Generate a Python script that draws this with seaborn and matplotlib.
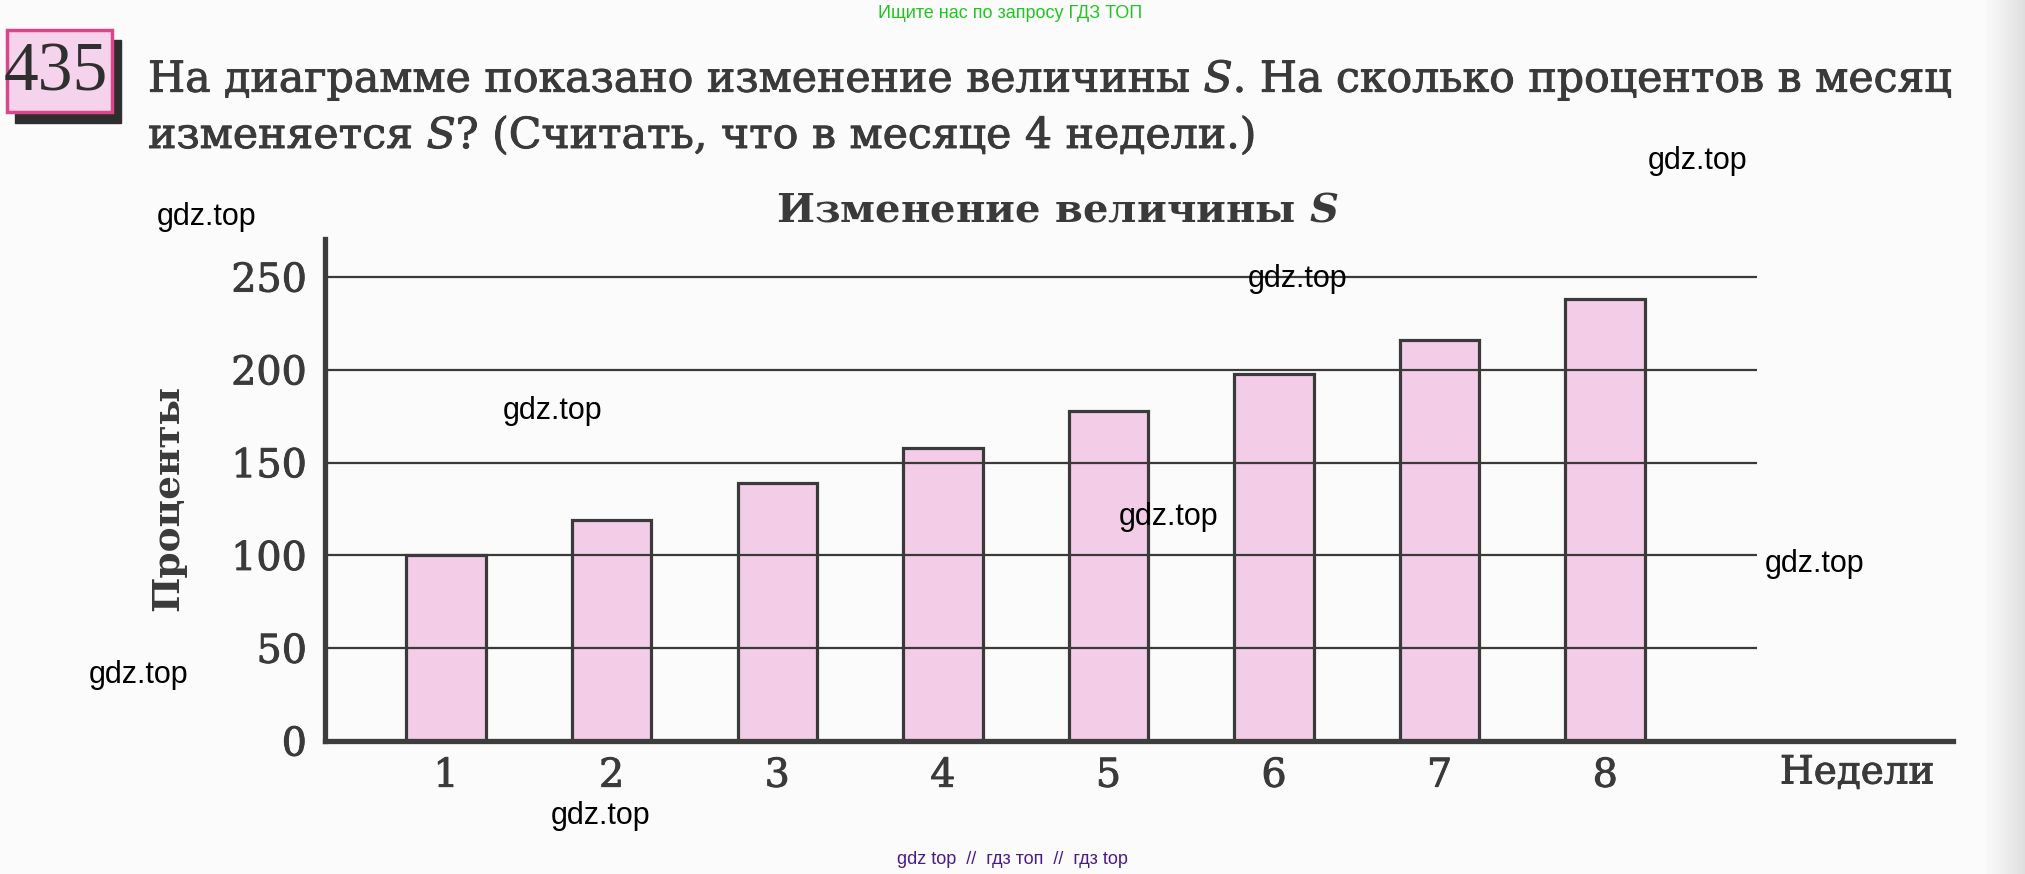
import matplotlib
matplotlib.use("Agg")
import matplotlib.pyplot as plt
import matplotlib.patheffects as pe
import seaborn as sns
import numpy as np
import pandas as pd
from matplotlib.patches import Rectangle

weeks = ["1", "2", "3", "4", "5", "6", "7", "8"]
percents = [100, 119, 139, 158, 178, 198, 216, 238]
y_ticks = [0, 50, 100, 150, 200, 250]

W, H = 2025, 874

sns.set_style("white")
plt.rcParams["font.family"] = ["DejaVu Serif"]
plt.rcParams["mathtext.fontset"] = "dejavuserif"

ink = "#3a3a3a"
pink = "#f3cde8"
# печать на бумаге чуть толще обычного шрифта
heavy = [pe.withStroke(linewidth=0.7, foreground=ink)]


def fx(x):
    return x / W


def fy(y):
    return 1 - y / H


fig = plt.figure(figsize=(W / 100, H / 100), dpi=100, facecolor="#fbfbfb")

# край страницы справа
edge = fig.add_axes([fx(1985), 0, 1 - fx(1985), 1])
edge.imshow(np.linspace(0.05, 0.22, 50)[None, :], aspect="auto", cmap="Greys",
            vmin=0, vmax=1, extent=(0, 1, 0, 1))
edge.axis("off")

# номер задачи в розовой рамке
fig.patches.append(Rectangle((fx(15), fy(123)), fx(106), 83 / H,
                             transform=fig.transFigure, color="#2e2e2e", zorder=1))
fig.patches.append(Rectangle((fx(7), fy(112)), fx(105), 82 / H,
                             transform=fig.transFigure, facecolor="#f6d3ec",
                             edgecolor="#d9468a", linewidth=2.5, zorder=2))
fig.text(fx(56), fy(74), "435", family="Liberation Serif", fontsize=50,
         color="#2f2f2f", ha="center", va="center", zorder=3)

# условие задачи
fig.text(fx(148), fy(92),
         "На диаграмме показано изменение величины $S$. На сколько процентов в месяц",
         fontsize=30.7, color=ink, ha="left", va="baseline", path_effects=heavy)
fig.text(fx(148), fy(148),
         "изменяется $S$? (Считать, что в месяце 4 недели.)",
         fontsize=30.7, color=ink, ha="left", va="baseline", path_effects=heavy)

# диаграмма
ax = fig.add_axes([fx(325), fy(741), fx(1953) - fx(325), fy(239) - fy(741)])
ax.set_facecolor("none")
df = pd.DataFrame({"week": weeks, "pct": percents})
sns.barplot(data=df, x="week", y="pct", color=pink, saturation=1, width=0.48,
            edgecolor=ink, linewidth=2.3, errorbar=None, ax=ax, zorder=2)
ax.hlines(y_ticks[1:], -0.731, 7.917, color=ink, linewidth=1.6, zorder=3)
ax.set_xlim(-0.731, 9.10)
ax.set_ylim(0, 270.5)
ax.set_yticks(y_ticks)
ax.set_xlabel("")
ax.set_ylabel("")
ax.tick_params(length=0, labelsize=28.5, labelcolor=ink)
ax.tick_params(axis="y", pad=13)
ax.tick_params(axis="x", pad=12)
for lbl in ax.get_xticklabels() + ax.get_yticklabels():
    lbl.set_path_effects(heavy)
for side in ["top", "right"]:
    ax.spines[side].set_visible(False)
for side in ["left", "bottom"]:
    ax.spines[side].set_linewidth(3.8)
    ax.spines[side].set_color("#3d3d3d")
    ax.spines[side].set_zorder(4)

fig.text(fx(1057), fy(211), "Изменение величины $\\mathbfit{S}$", fontsize=29,
         fontweight="bold", color=ink, ha="center", va="center")
fig.text(fx(168), fy(498), "Проценты", fontsize=27, fontweight="bold",
         color=ink, rotation=90, ha="center", va="center")
fig.text(fx(1857), fy(773), "Недели", fontsize=28, color=ink,
         ha="center", va="center", path_effects=heavy)

# водяные знаки
fig.text(fx(1010), fy(13), "Ищите нас по запросу ГДЗ ТОП", family="Liberation Sans",
         fontsize=13, color="#22c422", ha="center", va="center")
for x, y in [(1698, 161), (207, 217), (1298, 279), (553, 411),
             (1169, 517), (1815, 564), (139, 675), (601, 816)]:
    fig.text(fx(x), fy(y), "gdz.top", family="Liberation Sans", fontsize=22,
             color="black", ha="center", va="center", zorder=10)
fig.text(fx(1012), fy(859), "gdz top  //  гдз топ  //  гдз top", family="Liberation Sans",
         fontsize=13, color="#4b1a8a", ha="center", va="center")

fig.savefig("out.png", dpi=100, facecolor=fig.get_facecolor())
